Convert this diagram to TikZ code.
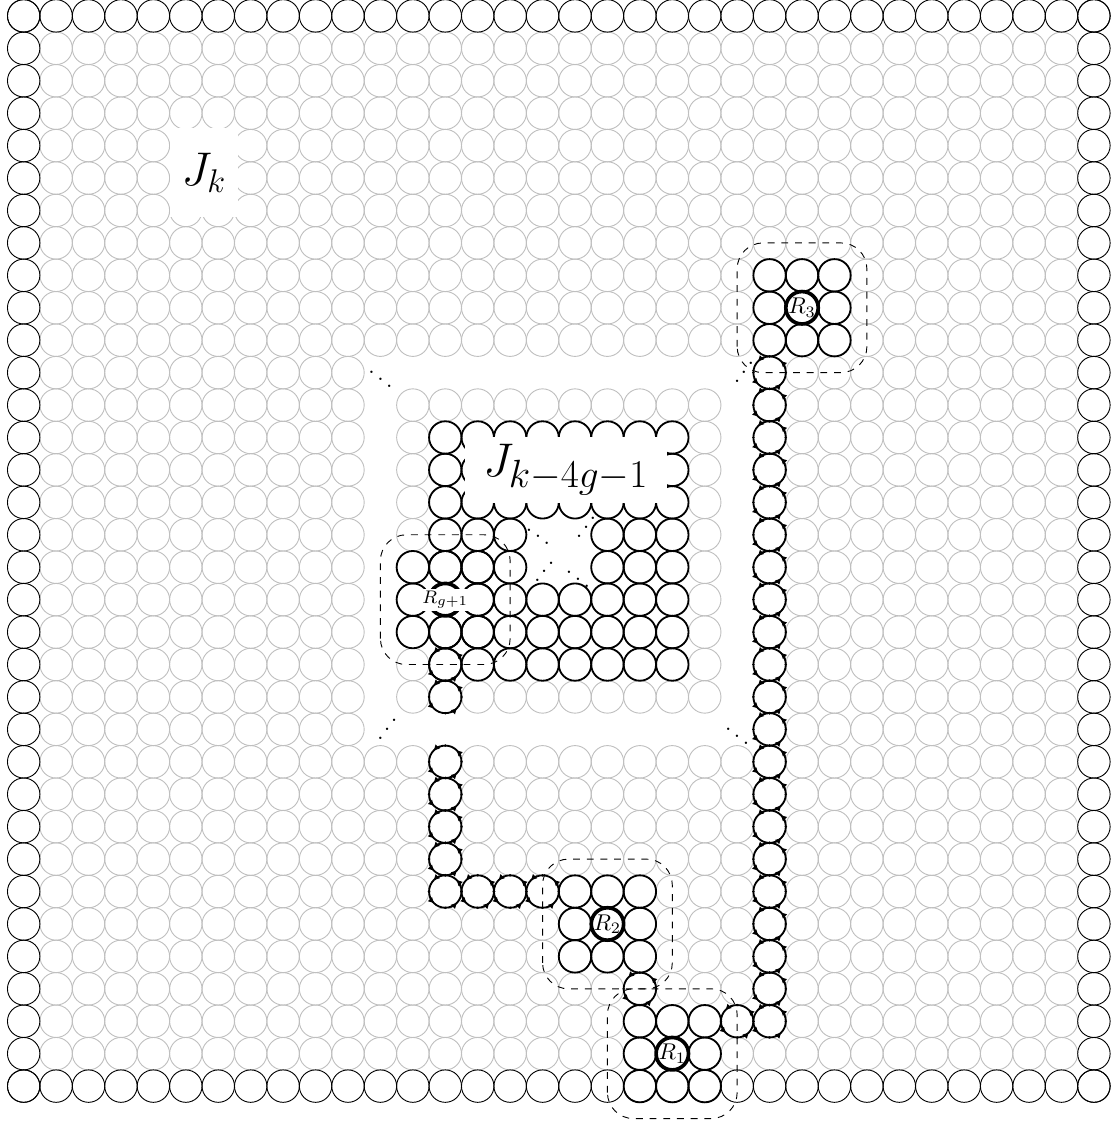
\documentclass[tikz,border=0pt]{standalone}
\usepackage{amsmath, amssymb}
\usetikzlibrary{arrows.meta}
\tikzset{
  cellgray/.style={draw=black!25, thin},
  cellrim/.style={draw=black, thin},
  cellblk/.style={draw=black, thick},
  cellroot/.style={draw=black, ultra thick},
  linktip/.style={thick, -{Triangle[length=2.4pt,width=2.4pt]}},
  regionbox/.style={draw=black, dashed, thin, rounded corners=0.4cm},
}
% a cell on a chain: circle with dots at N/E/S/W and small tips on the diagonals
\newcommand\linkcell[2]{%
  \draw[cellblk] (#1,-#2) circle (0.5);
  \foreach \a in {0,90,180,270}
    \fill (#1,-#2) ++(\a:0.5) circle (0.6pt);
  \foreach \a in {45,135,225,315}
    \draw[linktip] (#1,-#2) ++(\a-25:0.5) arc[start angle=\a-25, end angle=\a, radius=0.5];
}

\begin{document}
\begin{tikzpicture}[x=0.5cm, y=0.5cm]
    % Grid of 34 x 34 cells; cell (i,j) sits at (i,-j), i = column, j = row from top.
    %   cut-out ring of J_k: rows/cols 11..22, inner grid rows/cols 12..21
    %   J_{k-4g-1}: rows/cols 13..20, hole at rows/cols 16..17
    %   roots R_1 (20,32), R_2 (18,28), R_3 (24,9), R_{g+1} (13,18)
    \useasboundingbox (-0.73,0.49) rectangle (33.62,-34.23);
    % light cells of the interior
    \foreach \xa/\xb/\ya/\yb in {1/32/1/10, 1/32/23/32, 1/10/11/22, 23/32/11/22,
        12/21/12/12, 12/21/21/21, 12/12/13/20, 21/21/13/20}
      \foreach \i in {\xa,...,\xb}
        \foreach \j in {\ya,...,\yb}
          \draw[cellgray] (\i,-\j) circle (0.5);
    % outer rim
    \foreach \i in {0,...,33} {
      \draw[cellrim] (\i,0) circle (0.5);
      \draw[cellrim] (\i,-33) circle (0.5);
      \draw[cellrim] (0,-\i) circle (0.5);
      \draw[cellrim] (33,-\i) circle (0.5);
    }
    % inner block J_{k-4g-1}
    \foreach \xa/\xb/\ya/\yb in {13/20/13/15, 13/20/18/20, 13/15/16/17, 18/20/16/17}
      \foreach \i in {\xa,...,\xb}
        \foreach \j in {\ya,...,\yb}
          \draw[cellblk] (\i,-\j) circle (0.5);
    % 3x3 blocks round the roots
    \foreach \cx/\cy in {20/32, 18/28, 24/9, 13/18} {
      \foreach \dx in {-1,0,1}
        \foreach \dy in {-1,0,1}
          \draw[cellblk] (\cx+\dx,-\cy+\dy) circle (0.5);
      \draw[cellroot] (\cx,-\cy) circle (0.5);
    }
    % chains between the roots
    \foreach \j in {11,...,31} {\linkcell{23}{\j}}
    \foreach \j in {20,21,23,24,25,26,27} {\linkcell{13}{\j}}
    \foreach \i/\j in {22/31, 19/30, 14/27, 15/27, 16/27} {\linkcell{\i}{\j}}
    % dashed regions
    \foreach \cx/\cy in {20/32, 18/28, 24/9, 13/18}
      \draw[regionbox] (\cx-2,-\cy-2) rectangle (\cx+2,-\cy+2);
    % elided parts
    \node (dotsA) at (11,-11) {$\ddots$};
    \node[rotate=90] (dotsB) at (22,-11) {$\ddots$};
    \node[rotate=90] (dotsC) at (11,-22) {$\ddots$};
    \node (dotsD) at (22,-22) {$\ddots$};
    \node (holeA) at (15.86,-15.85) {$\ddots$};
    \node[rotate=90] (holeB) at (17.13,-15.78) {$\ddots$};
    \node[rotate=90] (holeC) at (15.84,-17.14) {$\ddots$};
    \node (holeD) at (17.09,-17.17) {$\ddots$};
    % labels
    \node[fill=white, minimum width=1.05cm, minimum height=1.37cm, inner sep=0pt,
          font=\huge] (Jk) at (5.56,-4.83) {$J_k$};
    \node[fill=white, scale=0.833, minimum width=3.73cm, minimum height=1.22cm,
          inner sep=0pt, font=\Huge] (Jin) at (16.72,-14.0) {$J_{k-4g-1}$};
    \node (R1) at (20,-32) {$R_1$};
    \node (R2) at (18,-28) {$R_2$};
    \node (R3) at (24,-9) {$R_3$};
    \node[fill=white, inner xsep=2.5pt, inner ysep=1pt, font=\footnotesize] (Rg)
          at (13,-18) {$R_{g+1}$};
\end{tikzpicture}
\end{document}
